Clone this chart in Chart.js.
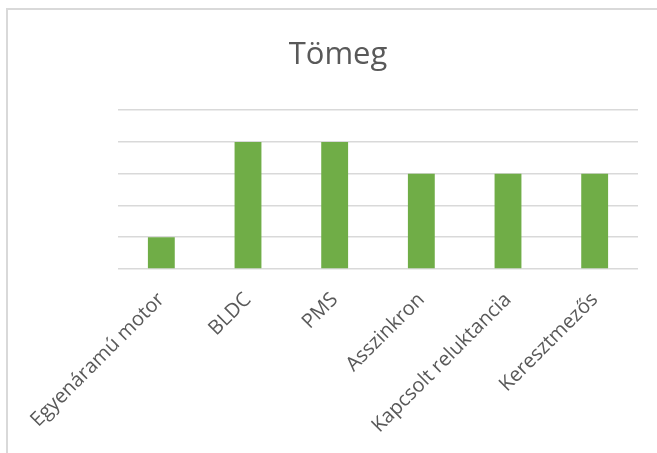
<!DOCTYPE html>
<html>
<head>
<meta charset="utf-8">
<script src="https://cdn.jsdelivr.net/npm/chart.js@4/dist/chart.umd.min.js"></script>
<style>
  html, body { margin: 0; padding: 0; width: 657px; height: 453px; overflow: hidden; background: #fff; }
  #frame { position: absolute; left: 6px; top: 8px; width: 664px; height: 452px; border: 2px solid #d9d9d9; box-sizing: border-box; }
  #wrap { position: absolute; left: 8px; top: 10px; width: 660px; height: 448px; }
</style>
</head>
<body>
<div id="frame"></div>
<div id="wrap"><canvas id="c"></canvas></div>
<script>
// Motor types and their mass rating
const categories = ['Egyenáramú motor', 'BLDC', 'PMS', 'Asszinkron', 'Kapcsolt reluktancia', 'Keresztmezős'];
const values = [1, 4, 4, 3, 3, 3];
const yMax = 5;

const textColor = '#595959';
const gridColor = '#d9d9d9';

new Chart(document.getElementById('c'), {
  type: 'bar',
  data: {
    labels: categories,
    datasets: [{
      label: 'Tömeg',
      data: values,
      backgroundColor: '#70ad47',
      borderWidth: 0,
      categoryPercentage: 1,
      barPercentage: 0.31
    }]
  },
  options: {
    responsive: true,
    maintainAspectRatio: false,
    animation: false,
    layout: { padding: 0 },
    plugins: {
      legend: { display: false },
      tooltip: { enabled: false },
      title: {
        display: true,
        text: 'Tömeg',
        color: textColor,
        font: { family: 'Open Sans', size: 31, weight: 'normal' },
        padding: { top: 27, bottom: 36 }
      }
    },
    scales: {
      x: {
        grid: { display: false },
        border: { display: false },
        ticks: {
          color: textColor,
          font: { family: 'Open Sans', size: 20 },
          minRotation: 45,
          maxRotation: 45,
          autoSkip: false,
          padding: 11
        },
        afterFit: (s) => { s.height = 189; }
      },
      y: {
        min: 0,
        max: yMax,
        ticks: { display: false, stepSize: 1 },
        grid: { color: gridColor, lineWidth: 1.5, drawTicks: false },
        border: { display: false },
        afterFit: (s) => { s.width = 110; }
      },
      // empty right-hand margin so the plot ends short of the frame
      yRight: {
        position: 'right',
        min: 0,
        max: yMax,
        ticks: { display: false },
        grid: { display: false },
        border: { display: false },
        afterFit: (s) => { s.width = 30; }
      }
    }
  }
});
</script>
</body>
</html>
